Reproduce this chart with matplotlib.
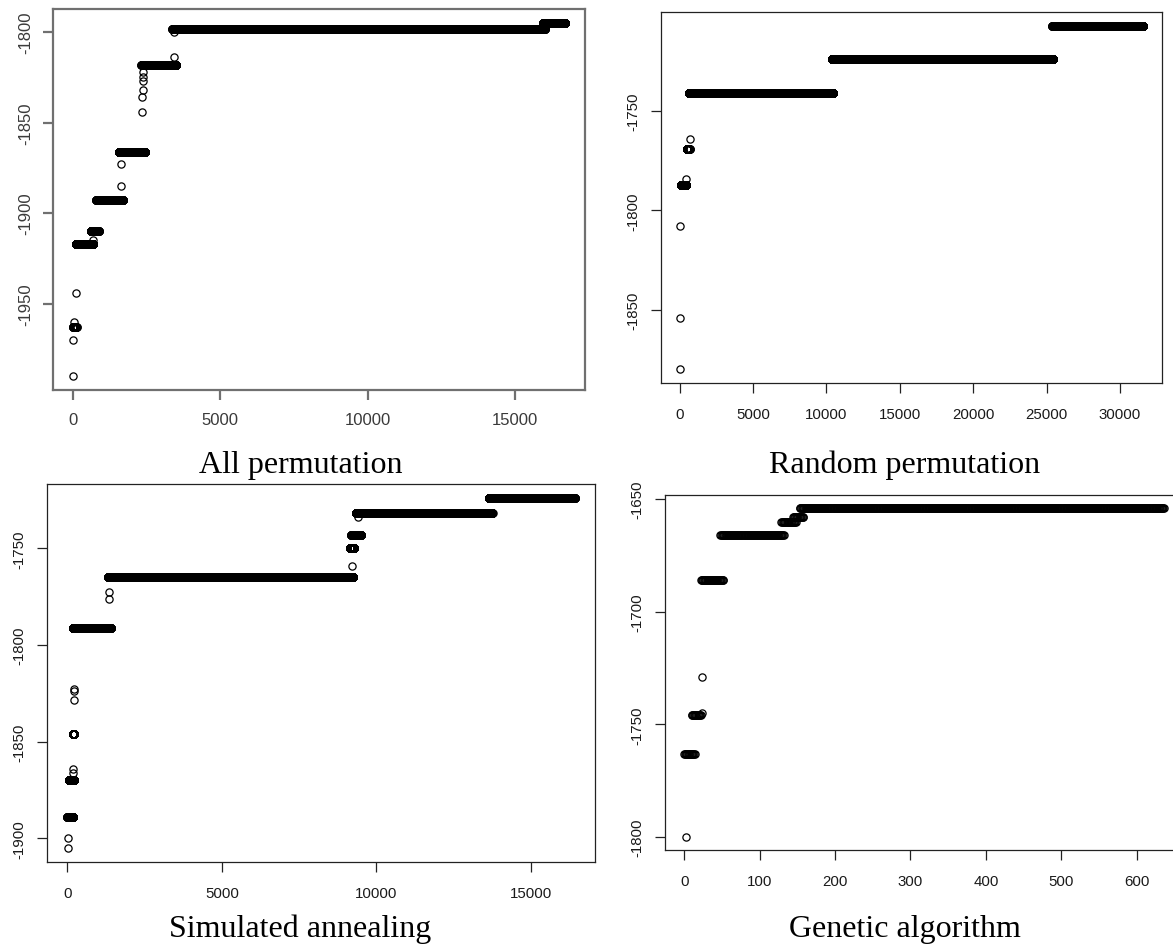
import numpy as np
import matplotlib
matplotlib.use("Agg")
import matplotlib.pyplot as plt

W, H = 1173, 945

# ---------------- data ----------------
# Plateaus: best score held over a run of iterations (start, end, value)
allperm_seg_start = [20, 100, 620, 800, 1560, 2330, 3380, 15950]
allperm_seg_end = [130, 700, 880, 1700, 2450, 3500, 16000, 16700]
allperm_seg_value = [-1963, -1917, -1910, -1893, -1866, -1818, -1798, -1795]
allperm_pt_x = [0, 20, 60, 100, 690, 1650, 1650, 2350, 2350, 2370, 2370, 2390, 2390, 3420, 3420]
allperm_pt_y = [-1990, -1970, -1960, -1944, -1915, -1885, -1873, -1844, -1836, -1832, -1827,
                -1825, -1822, -1814, -1800]

randperm_seg_start = [80, 480, 640, 10400, 25400]
randperm_seg_end = [450, 680, 10450, 25450, 31600]
randperm_seg_value = [-1787, -1769, -1741, -1724, -1707]
randperm_pt_x = [0, 0, 20, 450, 700]
randperm_pt_y = [-1880, -1854, -1808, -1784, -1764]

sa_seg_start = [0, 50, 170, 173, 1322, 9150, 9190, 9340, 13640]
sa_seg_end = [190, 230, 230, 1409, 9254, 9280, 9500, 13760, 16420]
sa_seg_value = [-1889, -1870, -1846, -1791, -1765, -1750, -1743, -1731.5, -1724]
sa_pt_x = [10, 10, 200, 200, 230, 230, 230, 1334, 1334, 9215, 9414]
sa_pt_y = [-1900, -1905, -1864, -1866, -1823, -1824, -1828.5, -1772.4, -1776, -1759, -1734]

ga_seg_start = [0, 10, 22, 48, 129, 144, 153]
ga_seg_end = [14, 22, 52, 132, 148, 158, 636]
ga_seg_value = [-1763, -1746, -1686, -1666, -1660, -1658, -1654]
ga_pt_x = [2, 23, 23]
ga_pt_y = [-1800, -1745, -1729]

titles = ["All permutation", "Random permutation", "Simulated annealing", "Genetic algorithm"]
xticks = [[0, 5000, 10000, 15000],
          [0, 5000, 10000, 15000, 20000, 25000, 30000],
          [0, 5000, 10000, 15000],
          [0, 100, 200, 300, 400, 500, 600]]
yticks = [[-1950, -1900, -1850, -1800],
          [-1850, -1800, -1750],
          [-1900, -1850, -1800, -1750],
          [-1800, -1750, -1700, -1650]]

panels = [
    (allperm_seg_start, allperm_seg_end, allperm_seg_value, allperm_pt_x, allperm_pt_y),
    (randperm_seg_start, randperm_seg_end, randperm_seg_value, randperm_pt_x, randperm_pt_y),
    (sa_seg_start, sa_seg_end, sa_seg_value, sa_pt_x, sa_pt_y),
    (ga_seg_start, ga_seg_end, ga_seg_value, ga_pt_x, ga_pt_y),
]

# ---------------- layout (pixel boxes: left, right, top, bottom) ----------------
boxes = [(53, 585, 10, 391), (661, 1162, 13, 384), (47, 595, 485, 863), (665, 1183, 496, 851)]
caption_xy = [(301, 473), (905, 473), (300, 937), (905, 937)]
frame_colors = ["#707070", "#222222", "#222222", "#222222"]
frame_lw = [1.6, 0.9, 0.9, 0.9]
label_colors = ["#3a3a3a", "#1a1a1a", "#1a1a1a", "#1a1a1a"]
label_sizes = [12.0, 10.8, 10.8, 10.8]
x_pads = [9.0, 10.0, 10.0, 10.0]
y_pads = [7.0, 7.5, 7.5, 7.5]

fig = plt.figure(figsize=(W / 100, H / 100), dpi=100)
fig.patch.set_facecolor("white")

for i, (ss, se, sv, px, py) in enumerate(panels):
    l, r, t, b = boxes[i]
    ax = fig.add_axes([l / W, 1 - b / H, (r - l) / W, (b - t) / H])
    xs, ys = [], []
    for s0, s1, v in zip(ss, se, sv):
        xx = np.arange(s0, s1 + 1)
        xs.append(xx)
        ys.append(np.full(xx.shape, v, dtype=float))
    xs.append(np.asarray(px, dtype=float))
    ys.append(np.asarray(py, dtype=float))
    x = np.concatenate(xs)
    y = np.concatenate(ys)
    ax.plot(x, y, linestyle="none", marker="o", markersize=5.2,
            markerfacecolor="none", markeredgecolor="black", markeredgewidth=0.9)
    ax.margins(0.04)
    ax.set_xticks(xticks[i])
    ax.set_yticks(yticks[i])
    ax.set_xticklabels([str(v) for v in xticks[i]])
    ax.set_yticklabels([str(v) for v in yticks[i]])
    for sp in ax.spines.values():
        sp.set_color(frame_colors[i])
        sp.set_linewidth(frame_lw[i])
    ax.tick_params(axis="both", direction="out", length=7, width=frame_lw[i],
                   color=frame_colors[i], labelsize=label_sizes[i],
                   labelcolor=label_colors[i])
    ax.tick_params(axis="x", pad=x_pads[i])
    ax.tick_params(axis="y", pad=y_pads[i])
    for lab in ax.get_xticklabels() + ax.get_yticklabels():
        lab.set_fontfamily("Liberation Sans")
    for lab in ax.get_yticklabels():
        lab.set_rotation(90)
        lab.set_va("center")
    cx, cy = caption_xy[i]
    fig.text(cx / W, 1 - cy / H, titles[i], ha="center", va="baseline",
             fontsize=23, family="Liberation Serif", color="black")

fig.savefig("out.png", dpi=100, facecolor="white")
